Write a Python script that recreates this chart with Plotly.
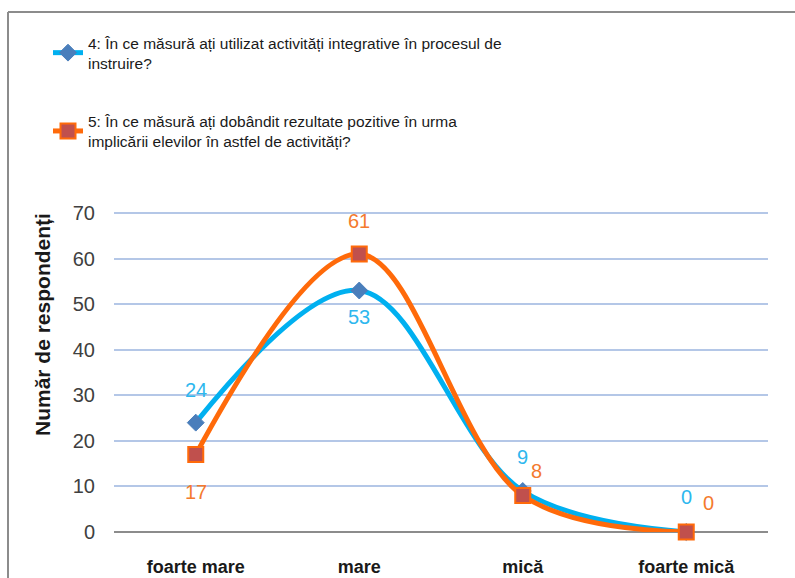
import plotly.graph_objects as go

categories = ["foarte mare", "mare", "mică", "foarte mică"]
q4_values = [24, 53, 9, 0]
q5_values = [17, 61, 8, 0]
q4_name = "4: În ce măsură ați utilizat activități integrative în procesul de<br>instruire?"
q5_name = "5: În ce măsură ați dobândit rezultate pozitive în urma<br>implicării elevilor în astfel de activități?"
y_ticks = [0, 10, 20, 30, 40, 50, 60, 70]
y_title = "Număr de respondenți"

BLUE = "#00B0F0"
ORANGE = "#FF6A0A"
SANS = "Liberation Sans, Arial, sans-serif"

fig = go.Figure()
fig.add_trace(go.Scatter(
    x=categories, y=q4_values, name=q4_name, mode="lines+markers",
    line=dict(color=BLUE, width=5, shape="spline", smoothing=1.0),
    marker=dict(symbol="diamond", size=13, color="#4A7EBB", line=dict(color="#4A7EBB", width=1)),
    cliponaxis=False, legendgroup="a",
))
fig.add_trace(go.Scatter(
    x=categories, y=q5_values, name=q5_name, mode="lines+markers",
    line=dict(color=ORANGE, width=5, shape="spline", smoothing=1.0),
    marker=dict(symbol="square", size=15, color="#C0504D", line=dict(color=ORANGE, width=2)),
    cliponaxis=False, legendgroup="b",
))

# data labels (offsets in pixels)
q4_offsets = [(0, 33), (0, -26), (0, 34), (0, 35)]
q5_offsets = [(0, -37), (0, 33), (14, 25), (22, 29)]
for cat, v, (dx, dy) in zip(categories, q4_values, q4_offsets):
    fig.add_annotation(x=cat, y=v, text=str(v), showarrow=False, xshift=dx, yshift=dy,
                       font=dict(family=SANS, size=20, color="#2DB7EE"))
for cat, v, (dx, dy) in zip(categories, q5_values, q5_offsets):
    fig.add_annotation(x=cat, y=v, text=str(v), showarrow=False, xshift=dx, yshift=dy,
                       font=dict(family=SANS, size=20, color="#F47A2E"))

W, H = 795, 578
L, R, T, B = 114, 27, 211, 46
pw, ph = W - L - R, H - T - B

# y-axis title
fig.add_annotation(xref="paper", yref="paper", x=(42 - L) / pw, y=(H - B - 325) / ph,
                   text=y_title, textangle=-90, showarrow=False,
                   xanchor="center", yanchor="middle",
                   font=dict(family=SANS, size=21, color="#1A1A1A", weight="bold"))

# outer border (top & left visible)
fig.add_shape(type="line", xref="paper", yref="paper",
              x0=(8 - L) / pw, x1=(W + 5 - L) / pw, y0=(H - B - 12) / ph, y1=(H - B - 12) / ph,
              line=dict(color="#8C8C8C", width=2))
fig.add_shape(type="line", xref="paper", yref="paper",
              x0=(8 - L) / pw, x1=(8 - L) / pw, y0=(H - B - 12) / ph, y1=-(B + 5) / ph,
              line=dict(color="#8C8C8C", width=2))

fig.update_layout(
    width=W, height=H,
    margin=dict(l=L, r=R, t=T, b=B, autoexpand=False),
    paper_bgcolor="white", plot_bgcolor="white",
    showlegend=True,
    legend=dict(
        xref="container", yref="container", x=48 / W, y=1 - 26 / H,
        xanchor="left", yanchor="top",
        font=dict(family=SANS, size=15.5, color="#1A1A1A"),
        tracegroupgap=35, bgcolor="rgba(0,0,0,0)",
    ),
    xaxis=dict(
        type="category", range=[-0.5, 3.5], showgrid=False, zeroline=False,
        showline=False, ticks="outside", ticklen=18, tickcolor="rgba(0,0,0,0)",
        tickfont=dict(family=SANS, size=18, color="#1A1A1A", weight="bold"),
    ),
    yaxis=dict(
        range=[0, 70.45], tickvals=y_ticks, showgrid=True, gridcolor="#B4C7E7", gridwidth=2,
        zeroline=True, zerolinecolor="#8C8C8C", zerolinewidth=2,
        showline=False, ticks="outside", ticklen=14, tickcolor="rgba(0,0,0,0)",
        tickfont=dict(family=SANS, size=20, color="#404040"),
    ),
)

fig.write_html("out.html", config={"displayModeBar": False},
               post_script="document.body.style.margin='0';")
